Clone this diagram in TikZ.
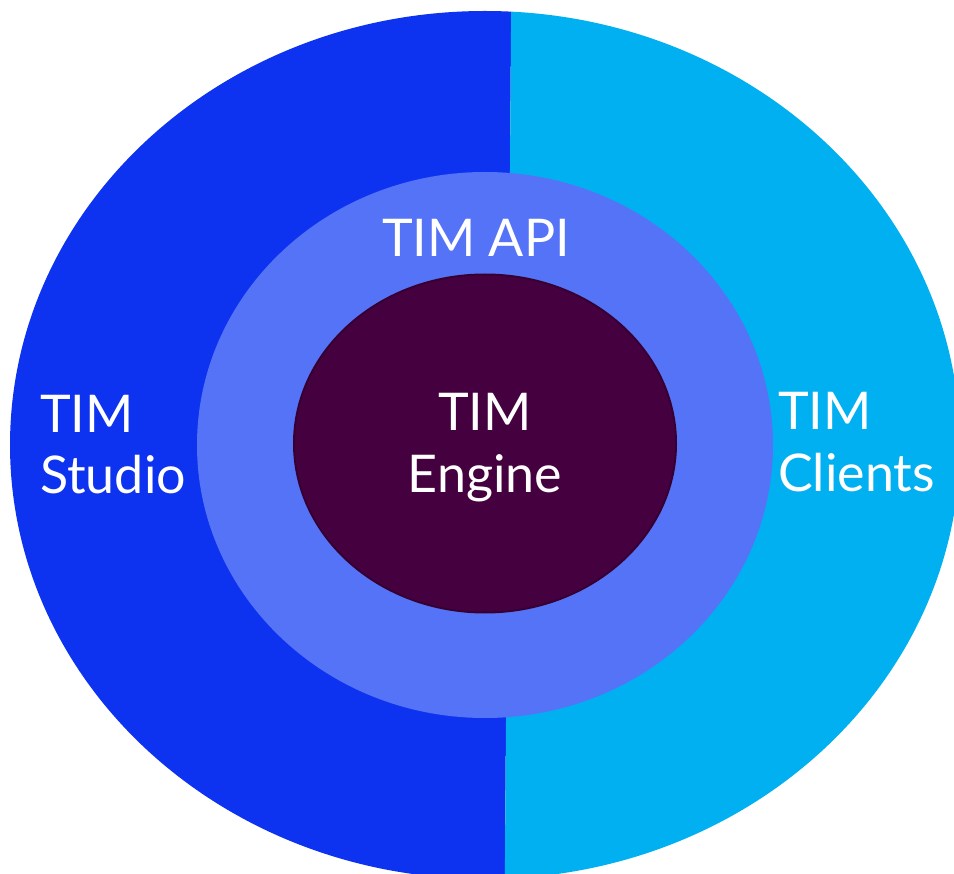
\documentclass[tikz,border=0pt]{standalone}
\usepackage{fontspec}
\setmainfont{Lato}
\definecolor{studio}{RGB}{13,51,240}
\definecolor{clients}{RGB}{0,176,240}
\definecolor{api}{RGB}{85,115,247}
\definecolor{engine}{RGB}{69,0,64}
\definecolor{engineedge}{RGB}{55,0,50}
\tikzset{
  lbl/.style={text=white, inner sep=0pt, font=\fontsize{52}{62}\selectfont},
}
\begin{document}
\begin{tikzpicture}[x=1pt,y=-1pt]
\useasboundingbox (0,0) rectangle (954,874);
\begin{scope}
  \clip (485,445) ellipse [x radius=475, y radius=434];
  \fill[studio] (0,-10) -- (511.3,-10) -- (504.7,900) -- (0,900) -- cycle;
  \fill[clients] (511.3,-10) -- (1000,-10) -- (1000,900) -- (504.7,900) -- cycle;
\end{scope}
\fill[api] (485,445) ellipse [x radius=288, y radius=273];
\draw[engineedge, fill=engine, line width=2pt] (485,443.5) ellipse [x radius=191, y radius=169];
\node[lbl, anchor=base] (apilbl) at (476,257) {TIM API};
\node[lbl, anchor=base west, align=left] (studiolbl) at (40,494) {TIM\\Studio};
\node[lbl, anchor=base west, align=left] (clientslbl) at (778,492) {TIM\\Clients};
\node[lbl, anchor=base, align=center] (enginelbl) at (485,493) {TIM\\Engine};
\end{tikzpicture}
\end{document}
